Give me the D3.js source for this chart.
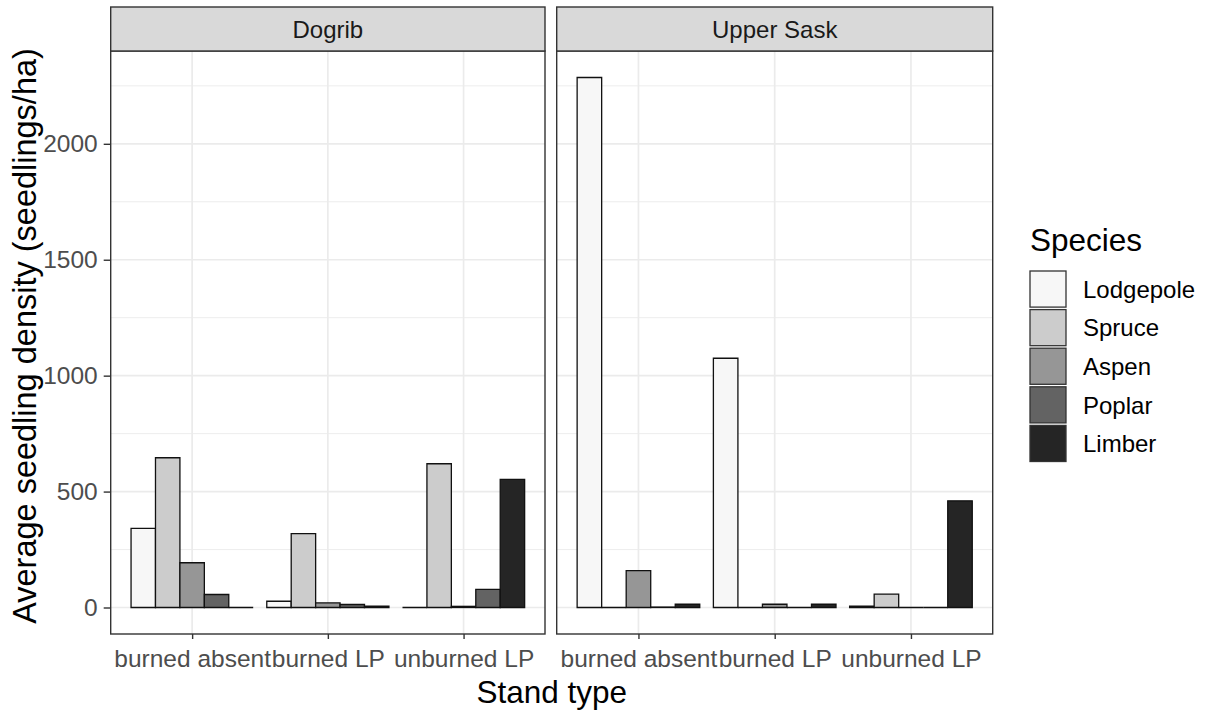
<!DOCTYPE html>
<html>
<head>
<meta charset="utf-8">
<script src="https://cdnjs.cloudflare.com/ajax/libs/d3/7.8.5/d3.min.js"></script>
<style>
  body { margin: 0; background: #fff; }
  text { font-family: "Liberation Sans", Arial, sans-serif; }
</style>
</head>
<body>
<div id="chart"></div>
<script>
'use strict';

// stand types, species and sites
const categories = ["burned absent", "burned LP", "unburned LP"];
const species = ["Lodgepole", "Spruce", "Aspen", "Poplar", "Limber"];
const sites = ["Dogrib", "Upper Sask"];
const fills = ["#f7f7f7", "#cccccc", "#969696", "#636363", "#252525"];

// average seedling density, one array per species (burned absent, burned LP, unburned LP)
const dogrib = {
    Lodgepole: [341, 27, 0],
    Spruce: [646, 319, 620],
    Aspen: [193, 20, 5],
    Poplar: [56, 13, 78],
    Limber: [0, 6, 553]
};
const upperSask = {
    Lodgepole: [2286, 1075, 6],
    Spruce: [0, 0, 58],
    Aspen: [159, 14, 0],
    Poplar: [2, 0, 0],
    Limber: [14, 14, 460]
};
const yTicks = [0, 500, 1000, 1500, 2000];
const yMinorTicks = [250, 750, 1250, 1750, 2250];

(function() {
    const W = 1209, H = 713;
    const panelTop = 51, panelBottom = 634, stripTop = 7;
    const panels = [{x0: 110.7, x1: 545, site: sites[0], data: dogrib},
                    {x0: 556.7, x1: 992.7, site: sites[1], data: upperSask}];

    const svg = d3.select("#chart").append("svg")
        .attr("width", W).attr("height", H);

    let maxVal = 0;
    panels.forEach(p => species.forEach(s => maxVal = Math.max(maxVal, d3.max(p.data[s]))));
    const pad = maxVal * 0.05;

    const y = d3.scaleLinear().domain([-pad, maxVal + pad]).range([panelBottom, panelTop]);
    const colour = d3.scaleOrdinal().domain(species).range(fills);

    panels.forEach((p, pi) => {
        const x = d3.scalePoint().domain(categories).range([p.x0, p.x1]).padding(0.6);
        const step = x.step();
        const dodge = d3.scaleBand().domain(species).range([-0.45 * step, 0.45 * step]);

        const g = svg.append("g");

        // grid
        g.selectAll(".minor").data(yMinorTicks).enter().append("line")
            .attr("x1", p.x0).attr("x2", p.x1)
            .attr("y1", d => y(d)).attr("y2", d => y(d))
            .attr("stroke", "#ebebeb").attr("stroke-width", 0.9);
        g.selectAll(".major").data(yTicks).enter().append("line")
            .attr("x1", p.x0).attr("x2", p.x1)
            .attr("y1", d => y(d)).attr("y2", d => y(d))
            .attr("stroke", "#ebebeb").attr("stroke-width", 1.7);
        g.selectAll(".vmajor").data(categories).enter().append("line")
            .attr("x1", d => x(d)).attr("x2", d => x(d))
            .attr("y1", panelTop).attr("y2", panelBottom)
            .attr("stroke", "#ebebeb").attr("stroke-width", 1.7);

        // bars (paths so that zero values still show their outline)
        const rows = [];
        categories.forEach((c, ci) => species.forEach(s => rows.push({c: c, s: s, v: p.data[s][ci]})));
        g.selectAll(".bar").data(rows).enter().append("path")
            .attr("d", d => {
                const bx = x(d.c) + dodge(d.s), bw = dodge.bandwidth();
                return "M" + bx + "," + y(0) + "V" + y(d.v) + "H" + (bx + bw) + "V" + y(0) + "Z";
            })
            .attr("fill", d => colour(d.s))
            .attr("stroke", "#111").attr("stroke-width", 1.3);

        // panel border
        g.append("rect")
            .attr("x", p.x0).attr("y", panelTop)
            .attr("width", p.x1 - p.x0).attr("height", panelBottom - panelTop)
            .attr("fill", "none").attr("stroke", "#333").attr("stroke-width", 1.4);

        // strip
        g.append("rect")
            .attr("x", p.x0).attr("y", stripTop)
            .attr("width", p.x1 - p.x0).attr("height", panelTop - stripTop)
            .attr("fill", "#d9d9d9").attr("stroke", "#333").attr("stroke-width", 1.4);
        g.append("text")
            .attr("x", (p.x0 + p.x1) / 2).attr("y", 38)
            .attr("text-anchor", "middle")
            .style("font-size", "24px").style("fill", "#1a1a1a")
            .text(p.site);

        // x axis
        const xAxis = g.append("g")
            .attr("transform", "translate(0," + panelBottom + ")")
            .call(d3.axisBottom(x).tickSize(5).tickPadding(11));
        xAxis.select(".domain").remove();
        xAxis.selectAll(".tick line").attr("stroke", "#333").attr("stroke-width", 1.4);
        xAxis.selectAll(".tick text")
            .attr("fill", "#4d4d4d").style("font-size", "24.5px")
            .style("font-family", "'Liberation Sans', Arial, sans-serif");

        // y axis on the first panel only
        if (pi == 0) {
            const yAxis = g.append("g")
                .attr("transform", "translate(" + p.x0 + ",0)")
                .call(d3.axisLeft(y).tickValues(yTicks).tickFormat(d3.format("d")).tickSize(7).tickPadding(6));
            yAxis.select(".domain").remove();
            yAxis.selectAll(".tick line").attr("stroke", "#333").attr("stroke-width", 1.4);
            yAxis.selectAll(".tick text")
                .attr("fill", "#4d4d4d").style("font-size", "24.5px")
                .style("font-family", "'Liberation Sans', Arial, sans-serif");
        }
    });

    // axis titles
    svg.append("text")
        .attr("x", (panels[0].x0 + panels[1].x1) / 2).attr("y", 703)
        .attr("text-anchor", "middle")
        .style("font-size", "31.5px").style("fill", "#000")
        .text("Stand type");

    svg.append("text")
        .attr("transform", "translate(36," + 336 + ") rotate(-90)")
        .attr("text-anchor", "middle")
        .style("font-size", "32.5px").style("fill", "#000")
        .text("Average seedling density (seedlings/ha)");

    // legend
    const legend = svg.append("g").attr("transform", "translate(1029,0)");
    legend.append("text")
        .attr("x", 1).attr("y", 251)
        .style("font-size", "31.5px").style("fill", "#000")
        .text("Species");

    const keyH = 38.6;
    const keys = legend.selectAll(".key").data(species).enter().append("g")
        .attr("transform", (d, i) => "translate(0," + (270 + i * keyH) + ")");
    keys.append("rect")
        .attr("x", 1).attr("y", 1)
        .attr("width", 36).attr("height", keyH - 2.5)
        .attr("fill", d => colour(d))
        .attr("stroke", "#333").attr("stroke-width", 1.3);
    keys.append("text")
        .attr("x", 54).attr("y", keyH / 2 + 8.5)
        .style("font-size", "24px").style("fill", "#000")
        .text(d => d);
})();
</script>
</body>
</html>
